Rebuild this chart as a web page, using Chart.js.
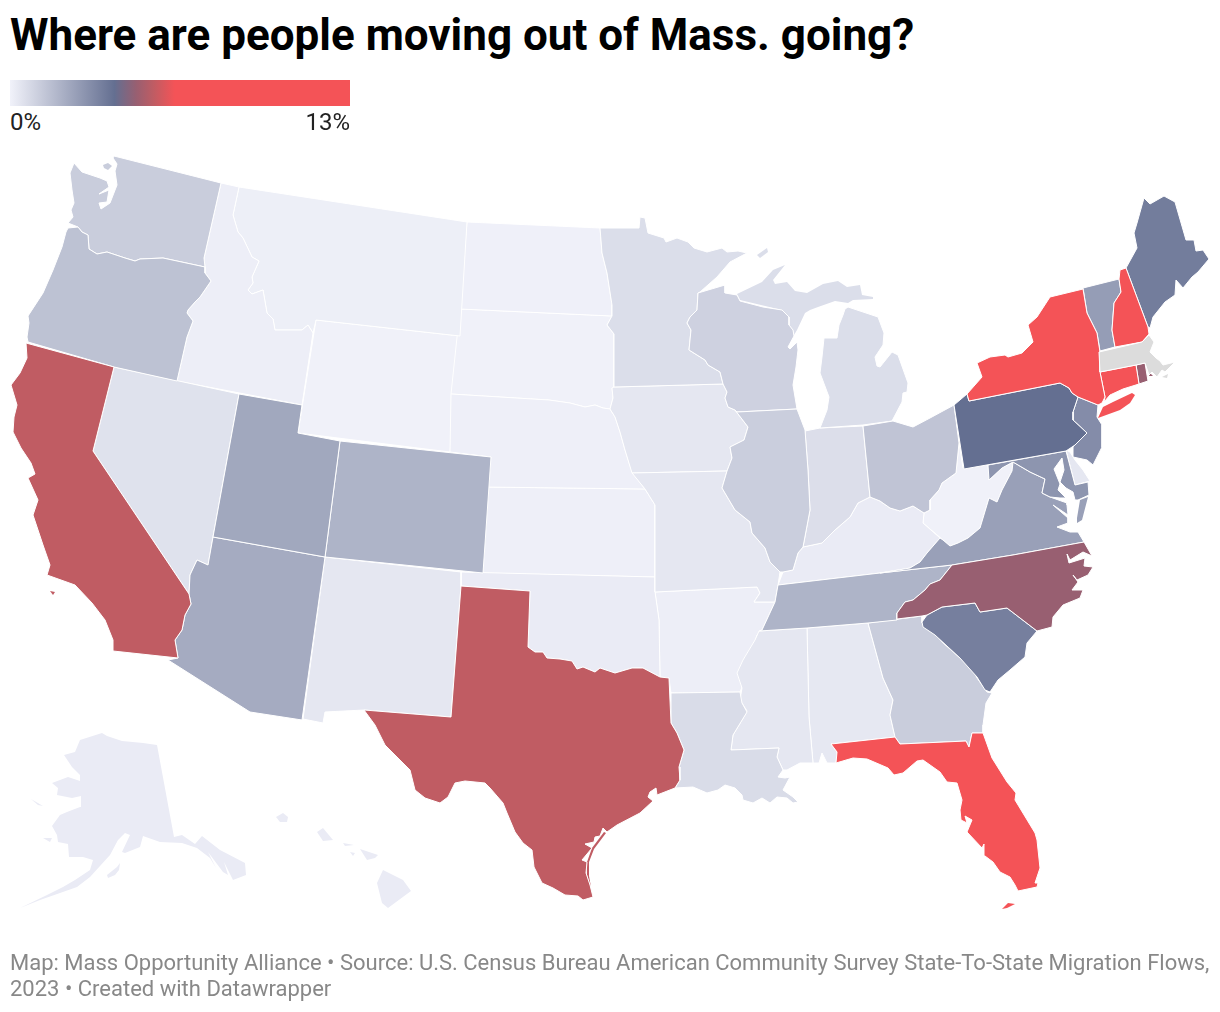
<!DOCTYPE html>
<html>
<head>
<meta charset="utf-8">
<title>Where are people moving out of Mass. going?</title>
<script src="https://cdn.jsdelivr.net/npm/chart.js@4"></script>
<style>
  html, body { margin: 0; padding: 0; background: #fff; }
  body { width: 1220px; height: 1012px; position: relative; overflow: hidden; font-family: Roboto, sans-serif; }
  canvas { position: absolute; display: block; }
  #mapCanvas { left: 0; top: 0; }
  #legendCanvas { left: 10px; top: 80px; }
  .text { position: absolute; white-space: nowrap; }
  #title { left: 10px; top: 12px; font-size: 44px; line-height: 46px; font-weight: 700; color: #000; }
  #legendMin { left: 10px; top: 109px; font-size: 24px; line-height: 26px; color: #222; }
  #legendMax { right: 870px; top: 109px; font-size: 24px; line-height: 26px; color: #222; }
  #footer { left: 10px; top: 950px; font-size: 22px; line-height: 26px; color: #888; }
</style>
</head>
<body>
<div class="text" id="title">Where are people moving out of Mass. going?</div>
<canvas id="legendCanvas" width="340" height="26"></canvas>
<div class="text" id="legendMin">0%</div>
<div class="text" id="legendMax">13%</div>
<canvas id="mapCanvas" width="1220" height="1012"></canvas>
<div class="text" id="footer">Map: Mass Opportunity Alliance • Source: U.S. Census Bureau American Community Survey State-To-State Migration Flows,<br>2023 • Created with Datawrapper</div>
<script>
// colour ramp of the legend (share of movers, %)
const rampValues = [0, 4, 4.83, 5.5, 6.3, 13];
const rampColors = [[241, 242, 250], [100, 111, 145], [152, 95, 113], [192, 92, 99], [244, 83, 87], [244, 83, 87]];
const noDataColor = [220, 220, 220];

// state outlines in map units
const washington = [[114,156],[221,183],[204,258],[205,267],[163,258],[140,259],[135,261],[125,258],[113,254],[107,252],[97,254],[89,249],[88,235],[82,232],[78,227],[68,223],[73,217],[71,210],[74,203],[72,190],[70,173],[74,163],[82,172],[100,178],[107,181],[109,187],[99,194],[109,190],[107,202],[99,203],[101,209],[110,203],[117,185],[115,171],[117,164],[113,158]];
const washingtonIsland = [[103,165],[108,163],[112,166],[108,170],[104,168]];
const oregon = [[68,228],[78,227],[82,232],[88,235],[89,249],[97,254],[107,252],[113,254],[125,258],[135,261],[140,259],[163,258],[205,267],[205,273],[211,281],[200,297],[195,302],[188,310],[187,313],[193,321],[187,337],[177,381],[114,367],[28,342],[27,337],[29,323],[28,316],[43,293],[53,270],[62,247],[66,232]];
const california = [[26,343],[114,367],[93,451],[189,594],[191,604],[185,615],[182,630],[175,640],[178,658],[113,651],[113,640],[105,620],[92,603],[75,585],[47,575],[50,565],[43,545],[33,515],[38,500],[28,478],[35,474],[31,463],[21,448],[13,432],[14,417],[17,405],[11,385],[20,373],[27,358]];
const californiaIsland = [[50,591],[55,592],[53,595]];
const nevada = [[114,367],[239,394],[213,537],[208,565],[197,560],[190,575],[189,594],[93,451]];
const idaho = [[221,183],[239,187],[233,215],[238,232],[243,238],[252,257],[259,261],[252,277],[253,283],[248,290],[252,294],[263,290],[267,313],[273,319],[275,330],[302,330],[308,325],[313,333],[302,405],[177,381],[187,337],[193,321],[187,313],[188,310],[195,302],[200,297],[211,281],[205,273],[205,267],[204,258]];
const montana = [[239,187],[467,222],[460,336],[316,320],[313,333],[308,325],[302,330],[275,330],[273,319],[267,313],[263,290],[252,294],[248,290],[253,283],[252,277],[259,261],[252,257],[243,238],[238,232],[233,215]];
const wyoming = [[316,320],[460,336],[450,452],[298,433]];
const utah = [[239,394],[302,405],[298,433],[340,441],[325,557],[213,537]];
const arizona = [[213,537],[325,557],[302,720],[250,712],[168,660],[178,658],[175,640],[182,630],[185,615],[191,604],[189,594],[190,575],[197,560],[208,565]];
const colorado = [[340,441],[491,457],[483,573],[325,557]];
const newMexico = [[325,557],[461,572],[461,586],[451,717],[364,710],[325,712],[323,723],[303,719]];
const northDakota = [[467,222],[600,228],[602,253],[607,273],[612,305],[612,316],[460,309]];
const southDakota = [[460,309],[612,316],[607,325],[614,334],[614,387],[612,388],[613,398],[610,409],[603,408],[595,405],[585,407],[570,403],[549,400],[451,394]];
const nebraska = [[451,394],[549,400],[570,403],[585,407],[595,405],[603,408],[610,409],[615,417],[620,432],[625,450],[632,472],[645,489],[485,487],[491,457],[450,452]];
const kansas = [[485,487],[645,489],[655,505],[655,577],[483,573]];
const oklahoma = [[461,572],[655,577],[655,592],[659,620],[660,677],[643,668],[632,668],[615,673],[600,668],[595,672],[583,667],[577,669],[572,661],[560,659],[547,658],[543,652],[535,652],[528,647],[530,591],[461,586]];
const texas = [[461,586],[530,591],[528,647],[535,652],[543,652],[547,658],[560,659],[572,661],[577,669],[583,667],[595,672],[600,668],[615,673],[632,668],[643,668],[660,677],[669,678],[671,723],[677,733],[684,750],[679,767],[680,780],[675,788],[657,795],[656,788],[650,792],[648,797],[653,801],[640,813],[617,825],[607,832],[603,828],[600,836],[595,837],[594,842],[585,844],[592,848],[582,860],[587,862],[586,873],[590,885],[593,897],[583,900],[578,896],[565,895],[553,888],[542,883],[534,867],[532,850],[523,843],[515,832],[507,813],[503,803],[490,788],[485,783],[465,781],[455,783],[448,797],[440,803],[425,798],[415,790],[410,770],[385,745],[375,725],[364,710],[451,717]];
const texasBarrier = [[604,832],[592,848],[587,862],[587,875],[591,887],[589,876],[589,862],[594,849],[606,833]];
const minnesota = [[600,228],[639,228],[640,217],[645,218],[648,233],[664,238],[666,242],[677,238],[688,242],[694,248],[707,252],[722,248],[727,252],[738,251],[747,253],[730,262],[717,277],[700,292],[698,293],[697,310],[690,317],[687,323],[691,330],[689,350],[697,355],[705,360],[708,365],[720,372],[723,384],[614,387],[614,334],[607,325],[612,316],[612,305],[607,273],[602,253]];
const iowa = [[614,387],[723,384],[727,392],[725,398],[728,407],[735,410],[748,427],[744,440],[730,447],[732,458],[727,471],[632,473],[625,450],[620,432],[615,417],[610,409],[613,398],[612,388]];
const missouri = [[632,473],[727,471],[722,488],[735,510],[750,522],[752,533],[765,548],[770,562],[780,572],[778,585],[775,602],[754,602],[760,593],[757,587],[655,592],[655,505],[645,489]];
const arkansas = [[655,592],[757,587],[760,593],[754,602],[775,602],[762,630],[757,635],[752,650],[744,660],[740,673],[742,687],[740,692],[671,693],[669,678],[660,677],[659,620]];
const louisiana = [[671,693],[740,692],[742,703],[747,712],[733,735],[731,750],[779,748],[777,757],[783,770],[778,777],[785,778],[790,777],[783,790],[793,797],[798,802],[793,803],[787,798],[777,797],[770,803],[762,798],[753,803],[743,800],[742,795],[735,788],[725,785],[718,790],[707,793],[693,787],[675,788],[680,780],[679,767],[684,750],[677,733],[671,723]];
const wisconsin = [[698,293],[725,285],[725,293],[737,295],[740,301],[763,307],[782,310],[789,317],[789,325],[793,330],[794,336],[788,347],[790,349],[797,342],[798,350],[796,367],[793,385],[797,409],[737,412],[735,410],[728,407],[725,398],[727,392],[723,384],[720,372],[708,365],[705,360],[697,355],[689,350],[691,330],[687,323],[690,317],[697,310]];
const illinois = [[737,412],[797,409],[805,430],[808,470],[810,510],[803,547],[798,553],[793,570],[783,572],[780,572],[770,562],[765,548],[752,533],[750,522],[735,510],[722,488],[727,471],[732,458],[730,447],[744,440],[748,427],[735,410]];
const indiana = [[805,431],[820,428],[863,426],[870,497],[858,503],[850,517],[835,530],[822,543],[803,547],[810,510],[808,470]];
const michigan = [[848,307],[878,317],[884,333],[883,345],[875,357],[877,366],[880,367],[892,352],[898,355],[908,383],[907,392],[903,393],[902,402],[892,421],[863,425],[820,428],[827,410],[829,397],[820,373],[822,357],[824,338],[837,338],[839,325],[843,315],[845,309]];
const michiganUpper = [[737,294],[762,282],[773,270],[785,265],[773,280],[775,284],[787,282],[795,291],[807,293],[823,284],[838,281],[847,287],[860,285],[862,295],[873,297],[873,299],[853,300],[848,303],[835,301],[818,307],[810,310],[805,313],[797,330],[794,335],[793,330],[789,325],[789,317],[782,310],[740,300]];
const michiganIsle = [[757,255],[767,248],[768,252],[760,258]];
const ohio = [[863,426],[893,421],[903,424],[913,427],[930,418],[954,405],[959,443],[956,473],[942,483],[939,490],[930,500],[930,510],[924,513],[913,506],[900,511],[890,508],[880,501],[870,497]];
const kentucky = [[778,585],[783,572],[793,570],[798,553],[803,547],[822,543],[835,530],[850,517],[858,503],[870,497],[880,501],[890,508],[900,511],[913,506],[924,513],[923,523],[940,538],[927,553],[920,562],[910,568],[880,573]];
const tennessee = [[778,585],[880,573],[952,565],[940,580],[930,584],[925,590],[913,600],[905,602],[897,613],[897,620],[868,623],[807,628],[759,631],[762,630],[775,602]];
const mississippi = [[759,631],[807,628],[809,717],[813,763],[800,763],[787,770],[783,770],[777,757],[779,748],[731,750],[733,735],[745,715],[747,711],[740,700],[742,688],[737,673],[743,660],[755,640]];
const alabama = [[807,628],[868,623],[883,678],[893,700],[890,715],[895,737],[831,744],[837,752],[836,763],[827,763],[822,753],[819,763],[813,763],[809,717]];
const georgia = [[868,623],[922,616],[922,623],[933,631],[942,642],[960,658],[973,670],[977,678],[987,692],[992,693],[986,703],[983,725],[983,733],[972,733],[969,747],[966,741],[900,744],[895,737],[890,715],[893,700],[883,678]];
const florida = [[831,744],[895,737],[900,744],[966,741],[969,747],[972,733],[983,733],[992,758],[1007,782],[1016,793],[1015,800],[1035,833],[1037,840],[1040,868],[1035,883],[1038,883],[1037,887],[1018,891],[1015,885],[1010,877],[1000,872],[993,862],[985,856],[984,844],[982,848],[967,832],[972,820],[965,816],[967,823],[961,820],[960,810],[962,800],[957,783],[947,782],[940,772],[923,760],[917,761],[903,773],[894,775],[888,768],[867,759],[853,758],[836,763],[837,752]];
const floridaKeys = [[1002,909],[1008,903],[1015,904],[1007,908]];
const southCarolina = [[922,622],[927,615],[942,607],[975,603],[980,612],[1007,608],[1037,631],[1027,643],[1025,657],[1010,670],[998,680],[990,692],[985,690],[977,677],[960,658],[935,635],[923,627]];
const northCarolina = [[897,619],[897,613],[905,602],[913,600],[925,590],[930,584],[940,580],[952,565],[1013,555],[1084,542],[1092,556],[1083,552],[1070,560],[1067,554],[1069,563],[1085,558],[1084,566],[1093,567],[1088,575],[1077,580],[1073,575],[1078,582],[1072,590],[1083,590],[1080,598],[1063,605],[1053,617],[1052,627],[1037,631],[1007,608],[980,612],[975,603],[942,607],[927,615],[922,616]];
const virginia = [[910,568],[920,562],[927,553],[940,538],[943,540],[950,546],[958,543],[968,538],[980,528],[989,498],[997,502],[1002,490],[1012,471],[1013,462],[1030,472],[1045,479],[1042,493],[1050,497],[1067,503],[1067,505],[1068,515],[1053,505],[1068,518],[1068,523],[1057,527],[1070,532],[1078,532],[1084,542],[1013,555],[952,565],[880,573]];
const virginiaShore = [[1088,497],[1080,500],[1077,518],[1077,523],[1082,520]];
const westVirginia = [[959,443],[963,468],[988,465],[989,480],[1002,468],[1013,462],[1012,471],[1002,490],[997,502],[989,498],[980,528],[968,538],[958,543],[950,546],[943,540],[923,523],[924,513],[930,510],[930,500],[939,490],[942,483],[956,473]];
const maryland = [[988,465],[1066,451],[1075,485],[1088,482],[1089,495],[1078,500],[1075,500],[1073,492],[1066,488],[1060,482],[1064,470],[1062,458],[1054,469],[1060,484],[1058,490],[1066,498],[1060,498],[1050,497],[1042,493],[1045,479],[1030,472],[1013,462],[1002,468],[989,480]];
const delaware = [[1066,450],[1070,452],[1075,460],[1083,470],[1090,481],[1075,485]];
const pennsylvania = [[954,405],[967,394],[969,401],[1060,383],[1069,388],[1072,393],[1078,397],[1073,412],[1073,420],[1087,433],[1075,445],[1066,451],[964,469]];
const newJersey = [[1078,397],[1098,405],[1097,417],[1102,425],[1102,447],[1093,465],[1087,460],[1073,457],[1073,447],[1087,433],[1073,420],[1073,412]];
const newYork = [[967,394],[982,377],[977,363],[990,357],[1005,355],[1008,357],[1022,353],[1033,342],[1028,325],[1037,317],[1050,297],[1083,289],[1087,313],[1097,333],[1100,352],[1100,372],[1105,397],[1102,403],[1098,405],[1078,397],[1072,393],[1069,388],[1060,383],[969,401]];
const longIsland = [[1135,395],[1132,393],[1113,402],[1103,407],[1098,418],[1120,410],[1130,403]];
const connecticut = [[1100,372],[1136,365],[1139,384],[1123,389],[1110,395],[1104,402],[1105,397]];
const rhodeIsland = [[1136,365],[1145,363],[1148,381],[1139,384]];
const rhodeIslandBay = [[1150,373],[1153,376],[1149,376]];
const massachusetts = [[1099,352],[1142,342],[1149,335],[1154,342],[1150,352],[1156,358],[1160,361],[1163,365],[1175,362],[1165,372],[1162,370],[1157,377],[1152,372],[1149,375],[1145,363],[1136,365],[1100,372]];
const massachusettsIsland = [[1162,377],[1168,374],[1167,378]];
const vermont = [[1083,288],[1119,279],[1121,292],[1114,303],[1112,330],[1115,347],[1100,351],[1097,333],[1087,313]];
const newHampshire = [[1120,270],[1126,268],[1148,327],[1149,334],[1142,342],[1115,347],[1112,330],[1114,303],[1121,292],[1119,279]];
const maine = [[1126,268],[1137,248],[1134,233],[1137,223],[1144,198],[1150,204],[1164,196],[1175,202],[1186,240],[1194,240],[1196,251],[1203,250],[1209,259],[1198,272],[1192,277],[1183,288],[1176,280],[1175,295],[1165,302],[1153,317],[1150,328],[1148,327]];
const alaska = [[157,745],[174,837],[182,835],[195,844],[202,836],[220,850],[245,863],[246,875],[233,880],[224,862],[228,875],[223,872],[208,852],[216,868],[210,858],[197,848],[182,843],[160,842],[143,836],[140,847],[125,853],[122,852],[130,835],[125,833],[118,840],[110,855],[90,877],[77,887],[60,893],[40,900],[20,908],[47,895],[63,887],[75,880],[90,870],[93,860],[83,857],[69,857],[68,844],[58,842],[57,835],[52,826],[60,815],[67,812],[80,807],[81,796],[72,798],[57,795],[58,788],[52,783],[68,777],[80,781],[80,775],[72,767],[64,755],[75,752],[80,740],[102,733],[107,736],[122,741],[143,743]];
const alaskaLawrence = [[31,799],[43,806],[38,805]];
const alaskaNunivak = [[43,838],[52,838],[50,842]];
const alaskaKodiak = [[107,875],[117,867],[120,863],[119,870],[115,875],[108,878]];
const hawaiiKauai = [[283,813],[288,817],[287,822],[280,822],[276,817]];
const hawaiiOahu = [[323,828],[333,840],[323,841],[317,832]];
const hawaiiMolokai = [[343,843],[354,845],[345,846]];
const hawaiiLanai = [[350,852],[355,853],[353,856]];
const hawaiiMaui = [[360,849],[378,855],[375,858],[367,860]];
const hawaiiBig = [[383,870],[403,880],[411,891],[388,908],[382,903],[377,883]];

// share of movers per state (%), estimated from the fill colours
const stateNames = ['Massachusetts','New York','New Hampshire','Connecticut','Florida','Texas','California','North Carolina','Rhode Island','Pennsylvania','Maine','South Carolina','New Jersey','Maryland','Vermont','Virginia','Utah','Arizona','Colorado','Tennessee','Oregon','Ohio','Washington','Georgia','Illinois','Wisconsin','Michigan','Minnesota','Indiana','Louisiana','Nevada','Missouri','Iowa','New Mexico','Mississippi','Alabama','Delaware','Oklahoma','Kentucky','Alaska','Hawaii','Idaho','Arkansas','Montana','Nebraska','Kansas','North Dakota','South Dakota','Wyoming','West Virginia'];
const stateShares = [null, 9, 8, 7, 11, 5.5, 5.5, 4.83, 4.83, 4, 3.57, 3.5, 3.1, 2.85, 2.6, 2.5, 2.27, 2.16, 1.9, 1.9, 1.47, 1.4, 1.13, 1.13, 1.1, 1, 0.62, 0.62, 0.6, 0.68, 0.5, 0.35, 0.33, 0.33, 0.33, 0.3, 0.35, 0.2, 0.2, 0.2, 0.2, 0.12, 0.12, 0.1, 0.08, 0.08, 0.05, 0.03, 0.03, 0.03];
const stateShapes = [[massachusetts, massachusettsIsland],[newYork, longIsland],[newHampshire],[connecticut],[florida, floridaKeys],[texas, texasBarrier],[california, californiaIsland],[northCarolina],[rhodeIsland, rhodeIslandBay],[pennsylvania],[maine],[southCarolina],[newJersey],[maryland],[vermont],[virginia, virginiaShore],[utah],[arizona],[colorado],[tennessee],[oregon],[ohio],[washington, washingtonIsland],[georgia],[illinois],[wisconsin],[michigan, michiganUpper, michiganIsle],[minnesota],[indiana],[louisiana],[nevada],[missouri],[iowa],[newMexico],[mississippi],[alabama],[delaware],[oklahoma],[kentucky],[alaska, alaskaLawrence, alaskaNunivak, alaskaKodiak],[hawaiiKauai, hawaiiOahu, hawaiiMolokai, hawaiiLanai, hawaiiMaui, hawaiiBig],[idaho],[arkansas],[montana],[nebraska],[kansas],[northDakota],[southDakota],[wyoming],[westVirginia]];
const borderlessStates = ['Alaska', 'Hawaii'];

function rampColor(value) {
  if (value === null) return `rgb(${noDataColor.join(',')})`;
  for (let i = 1; i < rampValues.length; i++) {
    if (value <= rampValues[i]) {
      const t = (value - rampValues[i - 1]) / (rampValues[i] - rampValues[i - 1]);
      const c = rampColors[i - 1].map((v, k) => Math.round(v + (rampColors[i][k] - v) * t));
      return `rgb(${c.join(',')})`;
    }
  }
  return `rgb(${rampColors[rampColors.length - 1].join(',')})`;
}

function buildDatasets() {
  const datasets = [];
  stateNames.forEach((name, i) => {
    const color = rampColor(stateShares[i]);
    stateShapes[i].forEach((part, partIndex) => {
      const points = part.concat([part[0]]).map(p => ({ x: p[0], y: p[1] }));
      // islands have no white outline, it would eat them
      const borderless = partIndex > 0 || borderlessStates.includes(name);
      datasets.push({
        label: name,
        data: points,
        showLine: true,
        fill: 'shape',
        tension: 0,
        pointRadius: 0,
        backgroundColor: color,
        borderColor: borderless ? color : '#ffffff',
        borderWidth: borderless ? 0 : 1,
        borderJoinStyle: 'round'
      });
    });
  });
  return datasets;
}

function drawMap() {
  new Chart(document.getElementById('mapCanvas'), {
    type: 'scatter',
    data: { datasets: buildDatasets() },
    options: {
      responsive: false,
      animation: false,
      devicePixelRatio: 1,
      events: [],
      layout: { padding: 0 },
      plugins: { legend: { display: false }, tooltip: { enabled: false } },
      scales: {
        x: { type: 'linear', min: 0, max: 1220, display: false },
        y: { type: 'linear', min: 0, max: 1012, reverse: true, display: false }
      }
    }
  });
}

function drawLegend() {
  const canvas = document.getElementById('legendCanvas');
  const maxValue = rampValues[rampValues.length - 1];
  const gradient = canvas.getContext('2d').createLinearGradient(0, 0, canvas.width, 0);
  rampValues.forEach((v, i) => gradient.addColorStop(v / maxValue, `rgb(${rampColors[i].join(',')})`));
  new Chart(canvas, {
    type: 'bar',
    data: {
      labels: ['share'],
      datasets: [{ data: [maxValue], backgroundColor: gradient, borderWidth: 0, barPercentage: 1, categoryPercentage: 1 }]
    },
    options: {
      indexAxis: 'y',
      responsive: false,
      animation: false,
      devicePixelRatio: 1,
      events: [],
      layout: { padding: 0 },
      plugins: { legend: { display: false }, tooltip: { enabled: false } },
      scales: {
        x: { min: 0, max: maxValue, display: false },
        y: { display: false }
      }
    }
  });
}

drawLegend();
drawMap();
</script>
</body>
</html>
